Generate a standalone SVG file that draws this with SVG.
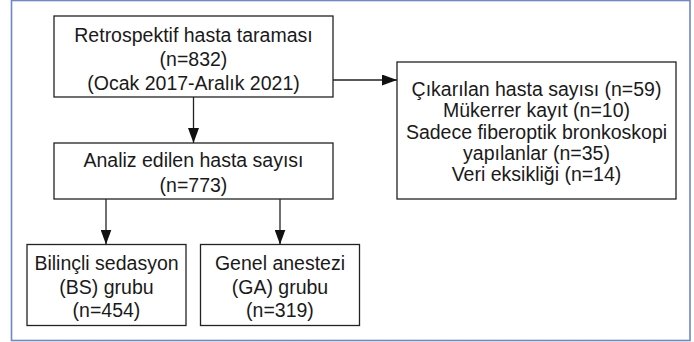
<svg xmlns="http://www.w3.org/2000/svg" width="694" height="342" viewBox="0 0 694 342">
<defs>
<style>
.box{fill:#fff;stroke:#222;stroke-width:1.3}
.t{font-family:"Liberation Sans",Arial,sans-serif;font-size:19.5px;fill:#1a1a1a;text-anchor:middle}
.c{stroke:#222;stroke-width:1.3;fill:none}
</style>
<marker id="ah" viewBox="0 0 15 11" refX="15" refY="5.5" markerWidth="15" markerHeight="11" markerUnits="userSpaceOnUse" orient="auto">
<path d="M0,0 L15,5.5 L0,11 Z" fill="#111"/>
</marker>
</defs>
<rect x="0" y="0" width="694" height="342" fill="#fff"/>
<rect x="11.5" y="0.5" width="678.5" height="340" fill="none" stroke="#6f86c8" stroke-width="1.6"/>
<g id="connectors">
<line class="c" x1="193.5" y1="97" x2="193.5" y2="143" marker-end="url(#ah)"/>
<line class="c" x1="333" y1="80" x2="397" y2="80" marker-end="url(#ah)"/>
<line class="c" x1="106" y1="199" x2="106" y2="244.5" marker-end="url(#ah)"/>
<line class="c" x1="280" y1="199" x2="280" y2="244.5" marker-end="url(#ah)"/>
</g>
<g id="screening">
<rect class="box" x="54" y="16" width="279" height="81"/>
<text class="t" x="193.5" y="41.5">Retrospektif hasta taraması</text>
<text class="t" x="193.5" y="65.5">(n=832)</text>
<text class="t" x="193.5" y="89.5">(Ocak 2017-Aralık 2021)</text>
</g>
<g id="analyzed">
<rect class="box" x="54" y="143" width="279" height="56"/>
<text class="t" x="193.5" y="166.5">Analiz edilen hasta sayısı</text>
<text class="t" x="193.5" y="191.5">(n=773)</text>
</g>
<g id="excluded">
<rect class="box" x="397" y="62" width="279" height="137"/>
<text class="t" x="536.5" y="96">Çıkarılan hasta sayısı (n=59)</text>
<text class="t" x="536.5" y="117.3">Mükerrer kayıt (n=10)</text>
<text class="t" x="536.5" y="138.6">Sadece fiberoptik bronkoskopi</text>
<text class="t" x="536.5" y="160">yapılanlar (n=35)</text>
<text class="t" x="536.5" y="181.3">Veri eksikliği (n=14)</text>
</g>
<g id="bs">
<rect class="box" x="27" y="244.5" width="159" height="81"/>
<text class="t" x="106.5" y="270">Bilinçli sedasyon</text>
<text class="t" x="106.5" y="293.5">(BS) grubu</text>
<text class="t" x="106.5" y="317">(n=454)</text>
</g>
<g id="ga">
<rect class="box" x="200.5" y="244.5" width="159" height="81"/>
<text class="t" x="280" y="270">Genel anestezi</text>
<text class="t" x="280" y="293.5">(GA) grubu</text>
<text class="t" x="280" y="317">(n=319)</text>
</g>
</svg>
